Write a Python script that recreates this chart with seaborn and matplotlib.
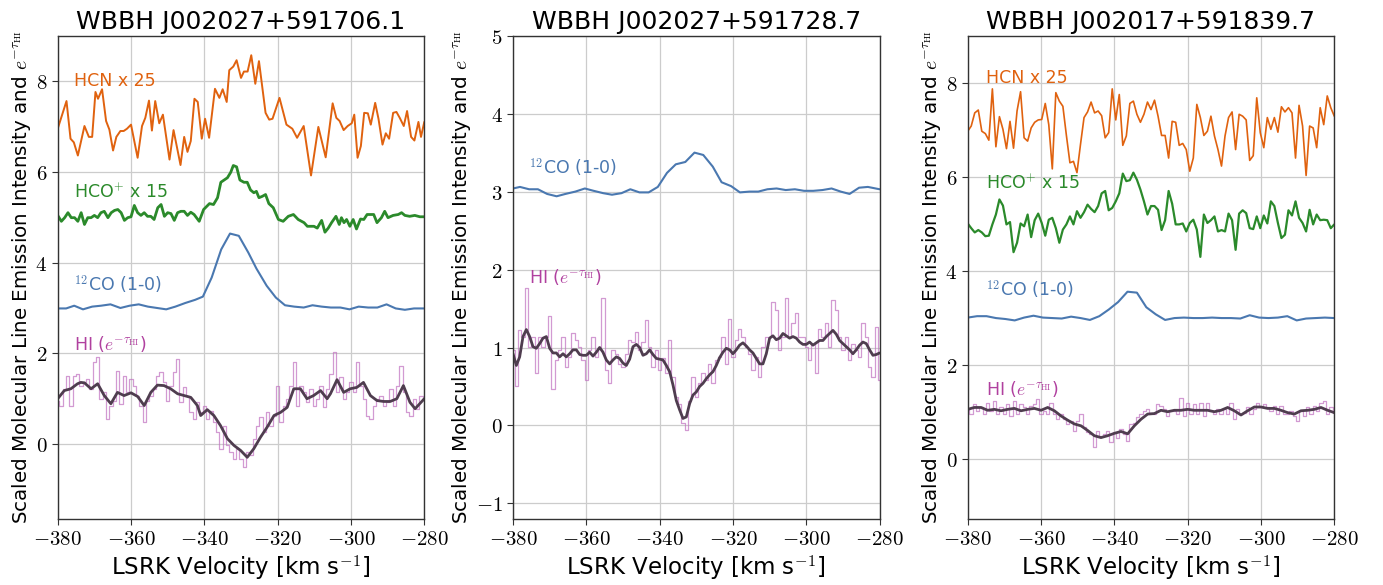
import numpy as np
import pandas as pd
import matplotlib
matplotlib.use("Agg")
import matplotlib.pyplot as plt
from matplotlib.ticker import FuncFormatter
import seaborn as sns

# ---------------- data ----------------
titles = ["WBBH J002027+591706.1", "WBBH J002027+591728.7", "WBBH J002017+591839.7"]

# Panel 1
p1_hcn_vel = [-380.0, -377.6, -376.5, -375.6, -374.5, -372.7, -371.5, -370.6, -369.7, -369.0,
              -367.9, -366.8, -365.9, -364.9, -364.0, -362.9, -362.0, -361.1, -360.0, -358.2,
              -357.0, -356.1, -355.1, -354.3, -353.4, -352.3, -351.3, -349.5, -348.4, -346.5,
              -345.5, -344.6, -343.7, -342.7, -341.8, -340.7, -339.8, -338.7, -337.1, -335.9,
              -335.0, -333.9, -333.2, -332.1, -331.2, -330.0, -329.2, -328.2, -327.2, -326.1,
              -325.1, -323.3, -322.3, -321.4, -319.5, -317.6, -316.0, -314.7, -312.9, -310.9,
              -308.9, -306.9, -305.0, -304.0, -303.1, -302.0, -300.9, -299.8, -299.1, -298.2,
              -297.3, -296.4, -295.4, -294.6, -293.4, -292.5, -291.4, -290.5, -289.6, -288.5,
              -287.6, -286.7, -285.6, -284.7, -283.6, -282.7, -281.6, -280.9, -280.0]
p1_hcn = [6.95, 7.56, 6.73, 6.65, 6.36, 7.01, 6.77, 6.77, 7.76, 7.61,
          7.82, 7.12, 6.93, 6.47, 6.77, 6.90, 6.90, 6.95, 7.04, 6.31,
          7.01, 7.19, 7.57, 6.91, 7.56, 7.07, 7.26, 6.27, 6.92, 6.15,
          6.77, 6.44, 6.68, 7.61, 7.54, 6.73, 7.17, 6.75, 7.83, 7.63,
          7.82, 7.54, 8.24, 8.32, 8.46, 8.07, 8.21, 8.21, 8.57, 7.94,
          8.44, 7.30, 7.15, 7.17, 7.63, 7.04, 6.95, 6.75, 7.01, 5.92,
          6.99, 6.32, 7.51, 7.19, 7.12, 6.92, 7.01, 7.07, 7.26, 6.31,
          6.57, 7.30, 7.29, 7.04, 7.52, 7.17, 6.60, 6.85, 6.73, 7.30,
          7.32, 7.19, 7.01, 7.34, 6.77, 6.69, 7.10, 6.77, 7.10]

p1_hco_vel = [-380.0, -379.0, -378.1, -377.2, -376.3, -375.4, -374.5, -373.6, -372.7, -371.8,
              -370.9, -370.0, -369.1, -368.2, -367.3, -366.3, -365.4, -364.5, -363.6, -362.7,
              -361.8, -360.9, -360.0, -359.1, -358.2, -357.3, -356.4, -355.5, -354.6, -353.7,
              -352.7, -351.8, -350.9, -350.0, -349.1, -348.2, -347.3, -346.4, -345.5, -344.6,
              -343.7, -342.8, -341.4, -340.2, -338.6, -337.5, -336.4, -335.5, -334.6, -333.7,
              -332.8, -332.1, -331.2, -330.3, -329.2, -328.3, -327.4, -326.5, -325.8, -325.1,
              -324.2, -323.3, -322.4, -321.2, -319.8, -318.5, -317.1, -315.7, -314.4, -312.8,
              -311.9, -311.0, -310.1, -309.2, -308.0, -307.1, -306.2, -305.3, -304.1, -303.2,
              -302.6, -301.9, -301.2, -300.3, -299.4, -298.5, -297.4, -296.5, -295.6, -294.7,
              -293.8, -292.9, -291.7, -290.8, -289.9, -288.5, -287.1, -286.2, -285.3, -284.0,
              -282.6, -281.2, -280.0]
p1_hco = [5.04, 4.91, 4.99, 5.10, 4.99, 4.99, 4.91, 5.10, 4.84, 4.99,
          4.99, 5.04, 4.99, 5.10, 5.13, 4.99, 5.10, 5.15, 5.17, 5.10,
          4.93, 4.99, 5.01, 5.26, 5.10, 5.04, 5.10, 5.02, 5.02, 4.95,
          5.21, 5.28, 5.02, 5.10, 5.08, 4.93, 5.10, 5.13, 5.13, 5.04,
          5.11, 5.06, 4.91, 5.17, 5.30, 5.28, 5.43, 5.77, 5.82, 5.87,
          5.99, 6.14, 6.11, 5.82, 5.77, 5.77, 5.60, 5.54, 5.57, 5.43,
          5.46, 5.50, 5.30, 5.21, 4.95, 4.91, 5.02, 5.06, 4.95, 4.88,
          4.80, 4.80, 4.80, 4.76, 4.93, 4.67, 4.76, 4.88, 5.02, 4.84,
          4.99, 4.88, 4.95, 4.80, 4.95, 4.74, 4.96, 4.95, 5.06, 5.06,
          5.06, 4.88, 4.99, 5.13, 4.99, 5.04, 5.06, 5.10, 5.04, 5.02,
          5.04, 5.01, 5.01]

p1_co_vel = [-380.0, -377.7, -375.5, -373.1, -370.6, -368.2, -365.6, -362.9, -360.4, -357.9,
             -355.4, -352.9, -350.4, -347.9, -345.2, -342.5, -340.4, -338.0, -335.4, -333.0,
             -330.6, -328.0, -325.8, -323.0, -320.5, -318.0, -315.5, -312.9, -310.5, -308.0,
             -305.5, -302.9, -300.4, -297.9, -295.3, -292.8, -290.3, -287.8, -285.3, -282.8,
             -280.0]
p1_co = [2.99, 2.99, 3.05, 2.97, 3.03, 3.05, 3.08, 3.00, 3.05, 3.08,
         3.03, 3.00, 2.97, 3.03, 3.11, 3.18, 3.25, 3.67, 4.29, 4.64,
         4.59, 4.22, 3.87, 3.49, 3.23, 3.06, 3.03, 3.01, 3.06, 3.03,
         3.01, 3.01, 2.97, 3.03, 3.01, 3.01, 3.08, 2.99, 2.96, 2.99,
         2.99]

p1_hi = [0.96, 0.85, 1.22, 1.51, 0.85, 1.51, 1.55, 1.29, 1.36, 1.44,
         1.22, 1.80, 1.91, 1.00, 1.14, 0.56, 0.85, 0.96, 1.62, 0.89,
         1.51, 1.14, 1.44, 1.29, 1.07, 0.85, 0.48, 0.96, 1.07, 1.22,
         1.51, 1.58, 1.36, 0.96, 1.29, 1.58, 1.88, 0.92, 1.25, 1.07,
         0.70, 0.56, 0.92, 0.70, 0.85, 0.56, 0.74, 0.48, 0.26, -0.10,
         0.41, -0.03, -0.18, -0.32, -0.10, -0.32, -0.51, -0.18, -0.25, 0.12,
         0.41, 0.59, 0.26, 0.70, 0.41, 0.63, 1.29, 0.48, 0.85, 1.00,
         1.29, 1.80, 0.85, 1.29, 1.14, 0.92, 1.22, 0.85, 1.00, 1.29,
         0.81, 1.22, 1.55, 2.02, 1.14, 1.47, 1.00, 1.14, 1.36, 1.14,
         1.80, 1.29, 1.00, 0.63, 0.56, 0.85, 1.00, 1.07, 0.85, 0.92,
         1.22, 0.85, 1.29, 1.73, 1.14, 0.70, 0.63, 1.00, 0.78, 1.07,
         1.00]
p1_hi_vel = np.linspace(-380, -280, len(p1_hi))

p1_sm_vel = [-380.0, -378.2, -376.4, -374.6, -373.7, -372.7, -370.9, -369.1, -367.3, -365.5,
             -363.7, -361.9, -360.0, -358.2, -356.4, -354.6, -352.8, -351.0, -349.2, -347.3,
             -345.5, -343.7, -341.9, -341.0, -339.2, -337.4, -335.6, -333.7, -331.9, -330.1,
             -328.3, -326.5, -324.7, -322.9, -321.0, -319.2, -317.4, -315.6, -313.8, -312.0,
             -310.2, -308.3, -306.5, -305.6, -303.8, -302.0, -300.2, -298.4, -296.6, -294.7,
             -292.9, -291.1, -289.3, -287.5, -285.7, -283.9, -282.5, -280.0]
p1_sm = [1.00, 1.18, 1.22, 1.33, 1.36, 1.35, 1.22, 1.33, 1.07, 0.89,
         1.14, 1.07, 1.13, 1.05, 0.85, 1.14, 1.30, 1.29, 1.22, 1.11,
         1.07, 1.03, 0.85, 0.63, 0.76, 0.63, 0.41, 0.12, -0.03, -0.14,
         -0.29, -0.10, 0.15, 0.37, 0.63, 0.70, 0.81, 1.22, 1.22, 1.00,
         1.07, 1.18, 1.00, 1.11, 1.42, 1.14, 1.22, 1.25, 1.36, 1.07,
         0.96, 0.94, 0.94, 1.00, 1.29, 0.92, 0.78, 1.00]

# Panel 2
p2_co_vel = [-380.0, -378.1, -375.6, -373.2, -370.7, -368.1, -365.7, -363.0, -360.4, -358.0,
             -355.4, -353.0, -350.4, -348.0, -345.5, -343.0, -340.5, -338.0, -335.6, -333.0,
             -330.5, -328.1, -325.5, -323.1, -320.5, -318.1, -315.5, -313.1, -310.6, -308.1,
             -305.6, -303.1, -300.6, -298.1, -295.6, -293.1, -290.6, -288.2, -285.6, -283.2,
             -280.0]
p2_co = [3.04, 3.06, 3.03, 3.03, 2.97, 2.94, 2.97, 3.00, 3.04, 3.01,
         2.98, 2.96, 2.98, 3.03, 2.99, 2.99, 3.06, 3.24, 3.35, 3.38,
         3.50, 3.47, 3.32, 3.12, 3.07, 2.99, 3.00, 3.00, 3.03, 3.04,
         3.02, 3.03, 3.01, 3.01, 3.02, 3.04, 3.00, 2.97, 3.05, 3.06,
         3.03]

p2_hi = [0.97, 0.50, 1.22, 1.14, 1.76, 1.01, 1.14, 0.67, 1.14, 1.01,
         1.14, 1.41, 0.47, 0.84, 0.97, 1.14, 0.75, 0.88, 1.18, 1.09,
         1.01, 0.84, 0.58, 0.97, 1.14, 0.88, 1.01, 1.63, 0.71, 0.54,
         0.97, 0.92, 0.79, 0.75, 0.92, 1.09, 1.07, 1.20, 0.97, 1.07,
         1.35, 1.01, 0.75, 0.97, 0.71, 0.86, 0.67, 1.09, 0.62, 0.37,
         0.28, 0.03, -0.06, 0.32, 0.62, 0.37, 0.54, 0.67, 0.58, 0.79,
         0.54, 0.84, 0.88, 1.14, 0.79, 1.37, 0.88, 1.09, 1.24, 1.14,
         1.01, 0.92, 0.71, 0.88, 0.62, 1.01, 1.14, 1.14, 1.59, 1.48,
         0.97, 1.14, 1.63, 1.14, 1.31, 1.44, 1.14, 1.14, 1.01, 0.84,
         1.05, 0.67, 1.24, 1.14, 1.31, 1.01, 1.61, 1.48, 1.14, 0.97,
         1.14, 0.84, 1.05, 0.97, 0.88, 1.31, 1.14, 0.75, 0.62, 1.26,
         0.58]
p2_hi_vel = np.linspace(-380, -280, len(p2_hi))

p2_sm = [0.92, 0.77, 0.88, 1.14, 1.23, 1.14, 1.01, 0.99, 1.05, 1.12,
         1.14, 0.99, 0.93, 0.93, 0.88, 0.92, 0.88, 0.92, 0.97, 0.97,
         0.91, 0.90, 0.90, 0.94, 0.89, 0.94, 1.00, 0.94, 0.84, 0.79,
         0.84, 0.88, 0.86, 0.80, 0.77, 0.85, 1.01, 1.04, 1.00, 0.90,
         0.92, 0.97, 0.91, 0.86, 0.85, 0.84, 0.77, 0.69, 0.52, 0.32,
         0.20, 0.09, 0.11, 0.28, 0.39, 0.43, 0.50, 0.54, 0.60, 0.65,
         0.69, 0.77, 0.87, 0.94, 0.99, 0.97, 0.92, 0.97, 1.03, 1.06,
         1.02, 0.97, 0.93, 0.86, 0.79, 0.79, 0.92, 1.12, 1.15, 1.10,
         1.12, 1.18, 1.15, 1.12, 1.14, 1.12, 1.07, 1.04, 1.04, 1.07,
         1.03, 1.06, 1.09, 1.09, 1.14, 1.18, 1.22, 1.17, 1.09, 1.05,
         1.01, 0.97, 0.92, 0.97, 1.03, 1.07, 1.05, 0.97, 0.90, 0.91,
         0.93]
p2_sm_vel = np.linspace(-380, -280, len(p2_sm))

# Panel 3
p3_hcn = [6.97, 7.08, 7.36, 7.42, 6.97, 6.92, 6.78, 7.87, 6.64, 7.28,
          7.01, 6.60, 7.18, 6.61, 7.40, 7.81, 6.83, 6.76, 7.04, 7.16,
          7.21, 7.22, 7.56, 7.11, 6.17, 7.79, 7.61, 7.50, 6.88, 6.30,
          6.33, 6.09, 6.69, 7.26, 7.38, 7.59, 7.36, 7.40, 7.30, 6.83,
          6.94, 7.87, 7.21, 7.75, 6.67, 6.87, 7.56, 7.61, 7.33, 7.16,
          7.33, 7.59, 7.43, 7.63, 7.29, 6.88, 6.88, 6.40, 7.18, 7.16,
          6.67, 6.71, 6.58, 6.12, 6.40, 7.54, 7.26, 6.88, 6.97, 7.29,
          6.87, 6.58, 6.23, 6.87, 7.26, 7.38, 6.58, 7.33, 7.29, 7.21,
          6.35, 6.45, 7.68, 6.94, 6.62, 7.26, 7.01, 7.26, 6.95, 7.49,
          7.38, 7.47, 7.36, 6.40, 7.52, 7.08, 6.03, 7.08, 7.04, 6.62,
          7.47, 7.11, 7.72, 7.47, 7.29]
p3_hcn_vel = np.linspace(-380, -280, len(p3_hcn))

p3_hco = [5.01, 4.91, 4.82, 4.87, 4.82, 4.74, 4.75, 4.99, 5.20, 5.52,
          5.39, 4.99, 5.04, 4.40, 4.60, 5.01, 4.95, 5.20, 4.72, 5.08,
          5.22, 5.02, 4.75, 5.09, 5.13, 4.91, 4.60, 4.88, 4.99, 5.16,
          4.99, 5.27, 5.13, 5.25, 5.41, 5.32, 5.25, 5.38, 5.65, 5.70,
          5.29, 5.34, 5.48, 5.65, 6.07, 5.91, 5.93, 6.09, 5.94, 5.73,
          5.48, 5.20, 5.38, 5.38, 5.30, 4.87, 5.08, 5.70, 5.43, 4.99,
          4.99, 5.01, 4.84, 5.02, 5.09, 4.88, 4.30, 5.20, 5.02, 5.08,
          5.16, 4.84, 4.87, 4.84, 5.22, 5.08, 4.45, 5.22, 5.29, 5.23,
          4.91, 4.89, 5.16, 4.91, 5.18, 5.01, 5.48, 5.38, 5.02, 4.70,
          4.77, 5.29, 5.18, 5.48, 5.13, 5.02, 4.84, 5.30, 4.99, 5.20,
          5.08, 5.09, 5.08, 4.91, 4.99]
p3_hco_vel = np.linspace(-380, -280, len(p3_hco))

p3_co = [3.01, 3.04, 3.04, 3.00, 2.98, 2.95, 3.01, 3.05, 3.01, 3.00,
         2.99, 3.03, 3.00, 2.96, 3.04, 3.18, 3.34, 3.56, 3.54, 3.23,
         3.08, 2.96, 3.00, 3.01, 3.00, 3.00, 3.01, 3.00, 3.00, 2.99,
         3.06, 3.01, 3.00, 3.01, 3.04, 2.95, 2.99, 3.00, 3.01, 3.00]
p3_co_vel = np.linspace(-380, -280, len(p3_co))

p3_hi = [1.06, 0.96, 1.17, 1.03, 1.10, 0.96, 1.20, 1.03, 1.24, 0.96,
         1.10, 0.96, 1.17, 0.92, 1.24, 0.96, 1.17, 1.10, 0.96, 1.13,
         1.17, 1.27, 0.96, 1.03, 0.96, 1.20, 0.96, 0.85, 0.96, 0.85,
         0.75, 0.82, 0.61, 0.82, 0.96, 0.68, 0.57, 0.54, 0.25, 0.61,
         0.50, 0.54, 0.61, 0.36, 0.57, 0.46, 0.64, 0.54, 0.39, 0.75,
         0.78, 0.89, 0.96, 1.03, 1.06, 0.99, 0.96, 1.17, 1.13, 1.06,
         0.92, 1.03, 1.03, 0.96, 1.31, 0.92, 1.20, 0.96, 1.17, 0.96,
         1.20, 0.92, 1.20, 1.03, 0.96, 1.06, 0.96, 1.06, 0.96, 1.20,
         0.85, 1.06, 0.96, 0.99, 1.10, 0.96, 1.06, 1.20, 1.10, 1.17,
         1.10, 1.03, 1.13, 0.96, 1.13, 0.96, 0.96, 1.03, 0.92, 0.82,
         1.03, 0.92, 1.10, 0.96, 1.13, 1.03, 1.20, 1.24, 0.96, 1.10,
         0.99]
p3_hi_vel = np.linspace(-380, -280, len(p3_hi))

p3_sm = [1.06, 1.10, 1.10, 1.04, 1.06, 1.03, 1.06, 1.08, 1.03, 1.06,
         1.08, 1.04, 1.10, 1.03, 0.92, 0.83, 0.75, 0.71, 0.61, 0.50,
         0.46, 0.50, 0.55, 0.59, 0.54, 0.71, 0.85, 0.96, 0.97, 1.04,
         1.01, 1.04, 1.04, 1.06, 1.04, 1.04, 1.04, 1.01, 1.04, 1.10,
         1.03, 0.94, 1.03, 1.11, 1.11, 1.08, 1.08, 1.04, 0.99, 0.96,
         1.03, 1.04, 1.06, 1.10, 1.04, 0.99]
p3_sm_vel = np.linspace(-380, -280, len(p3_sm))

# ---------------- style ----------------
sns.set_style("whitegrid")
plt.rcParams['font.family'] = ['DejaVu Sans']
plt.rcParams['mathtext.fontset'] = 'cm'
plt.rcParams['text.color'] = 'black'
plt.rcParams['axes.labelcolor'] = 'black'
plt.rcParams['xtick.color'] = 'black'
plt.rcParams['ytick.color'] = 'black'

C_HCN = "#e0620f"
C_HCO = "#2b8a2b"
C_CO = "#4a78b0"
C_HI = "#c070c0"
C_HI_TXT = "#b0409f"
C_SM = "#4f3d4f"

fig = plt.figure(figsize=(13.83, 5.85), dpi=100)
W, H = 1383.0, 585.0
lefts = [57.7, 513.0, 967.7]
axw, top, bot = 366.6, 35.7, 519.0
ylims = [(-1.65, 9.0), (-1.2, 5.0), (-1.27, 9.0)]
yticks = [[0, 2, 4, 6, 8], [-1, 0, 1, 2, 3, 4, 5], [0, 2, 4, 6, 8]]

fmt = FuncFormatter(lambda v, p: r"$%d$" % v)


def line(ax, x, y, color, lw, **kw):
    sns.lineplot(x=np.asarray(x, float), y=np.asarray(y, float), ax=ax, color=color,
                 linewidth=lw, estimator=None, sort=False, **kw)


axes = []
for i in range(3):
    ax = fig.add_axes([lefts[i] / W, (H - bot) / H, axw / W, (bot - top) / H])
    axes.append(ax)
    ax.set_xlim(-380, -280)
    ax.set_ylim(*ylims[i])
    ax.set_xticks([-380, -360, -340, -320, -300, -280])
    ax.set_yticks(yticks[i])
    ax.xaxis.set_major_formatter(fmt)
    ax.yaxis.set_major_formatter(fmt)
    ax.tick_params(axis='both', labelsize=15, length=4, width=0.8, direction='out',
                   color='#333333', bottom=True, left=True)
    ax.grid(True, color='#cccccc', linewidth=0.9)
    for s in ax.spines.values():
        s.set_color('#333333')
        s.set_linewidth(1.0)
    ax.set_title(titles[i], fontsize=18, pad=5, color='black')
    ax.set_xlabel(r"LSRK Velocity [km s$^{-1}$]", fontsize=16.5, labelpad=3)
    ax.set_ylabel(r"Scaled Molecular Line Emission Intensity and $e^{-\tau_{\rm HI}}$",
                  fontsize=14.3, labelpad=2)

ax1, ax2, ax3 = axes
TXT = 12.5

# panel 1
line(ax1, p1_hi_vel, p1_hi, C_HI, 0.9, drawstyle='steps-mid', alpha=0.7)
line(ax1, p1_sm_vel, p1_sm, C_SM, 2.0)
line(ax1, p1_co_vel, p1_co, C_CO, 1.5)
line(ax1, p1_hco_vel, p1_hco, C_HCO, 2.0)
line(ax1, p1_hcn_vel, p1_hcn, C_HCN, 1.4)
ax1.text(-375.5, 8.0, "HCN x 25", color=C_HCN, fontsize=TXT, va='center')
ax1.text(-375.5, 5.55, r"HCO$^{+}$ x 15", color=C_HCO, fontsize=TXT, va='center')
ax1.text(-375.5, 3.5, r"$^{12}$CO (1-0)", color=C_CO, fontsize=TXT, va='center')
ax1.text(-375.5, 2.2, r"HI ($e^{-\tau_{\rm HI}}$)", color=C_HI_TXT, fontsize=TXT, va='center')

# panel 2
line(ax2, p2_hi_vel, p2_hi, C_HI, 0.9, drawstyle='steps-mid', alpha=0.7)
line(ax2, p2_sm_vel, p2_sm, C_SM, 2.0)
line(ax2, p2_co_vel, p2_co, C_CO, 1.5)
ax2.text(-375.5, 3.3, r"$^{12}$CO (1-0)", color=C_CO, fontsize=TXT, va='center')
ax2.text(-375.5, 1.9, r"HI ($e^{-\tau_{\rm HI}}$)", color=C_HI_TXT, fontsize=TXT, va='center')

# panel 3
line(ax3, p3_hi_vel, p3_hi, C_HI, 0.9, drawstyle='steps-mid', alpha=0.7)
line(ax3, p3_sm_vel, p3_sm, C_SM, 2.0)
line(ax3, p3_co_vel, p3_co, C_CO, 1.5)
line(ax3, p3_hco_vel, p3_hco, C_HCO, 1.6)
line(ax3, p3_hcn_vel, p3_hcn, C_HCN, 1.2)
ax3.text(-375.0, 8.1, "HCN x 25", color=C_HCN, fontsize=TXT, va='center')
ax3.text(-375.0, 5.85, r"HCO$^{+}$ x 15", color=C_HCO, fontsize=TXT, va='center')
ax3.text(-375.0, 3.6, r"$^{12}$CO (1-0)", color=C_CO, fontsize=TXT, va='center')
ax3.text(-375.0, 1.5, r"HI ($e^{-\tau_{\rm HI}}$)", color=C_HI_TXT, fontsize=TXT, va='center')

fig.savefig("out.png", dpi=100)
